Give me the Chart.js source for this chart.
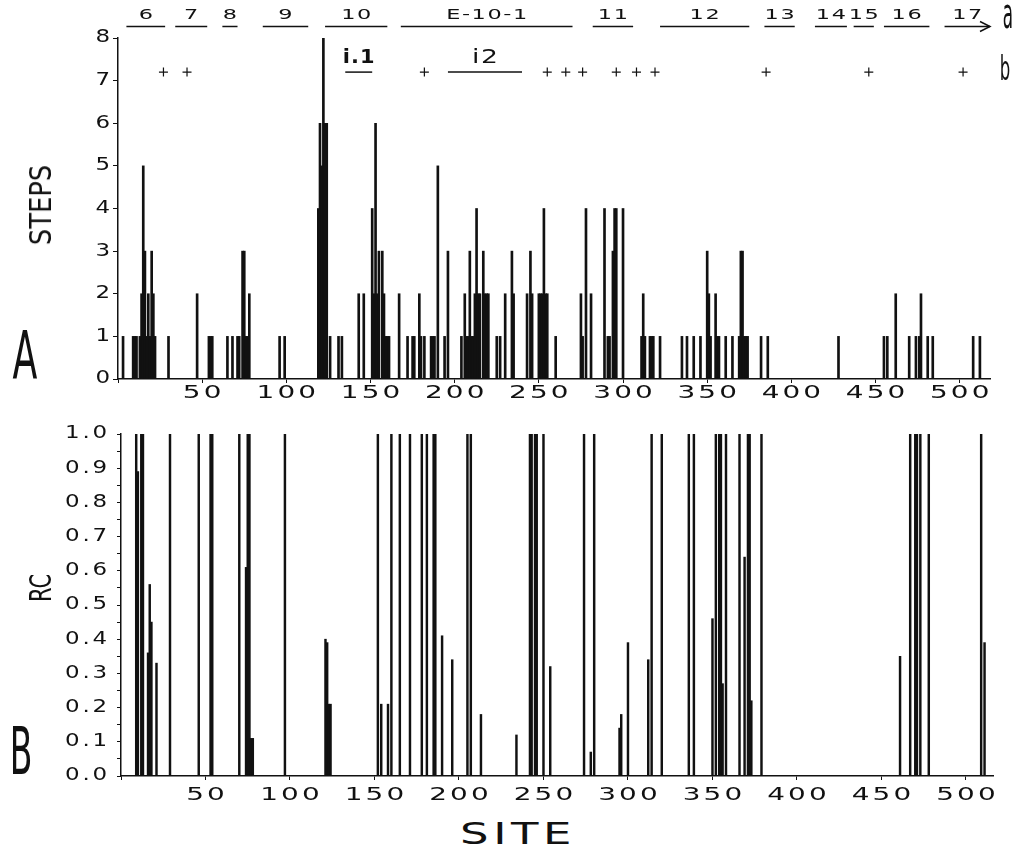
<!DOCTYPE html>
<html>
<head>
<meta charset="utf-8">
<script src="https://cdn.jsdelivr.net/npm/chart.js@4.4.1/dist/chart.umd.min.js"></script>
<style>
  html, body { margin: 0; padding: 0; background: #fff; }
  #wrap { position: relative; width: 1021px; height: 847px; overflow: hidden; font-family: "DejaVu Sans", sans-serif; color: #111; }
  canvas { position: absolute; left: 0; }
  #stepsChart { top: 0; }
  #rcChart { top: 410px; }
  .lbl { position: absolute; line-height: 1; white-space: nowrap; }
</style>
</head>
<body>
<div id="wrap">
  <canvas id="stepsChart" width="1021" height="405"></canvas>
  <canvas id="rcChart" width="1021" height="400"></canvas>

  <div class="lbl" style="left:25px; top:356px; font-size:66px; transform:translate(-50%,-50%) scaleX(0.55);">A</div>
  <div class="lbl" style="left:21px; top:752px; font-size:66px; transform:translate(-50%,-50%) scaleX(0.5);">B</div>
  <div class="lbl" style="left:41px; top:205px; font-size:30px; transform:translate(-50%,-50%) rotate(-90deg) scaleX(0.86);">STEPS</div>
  <div class="lbl" style="left:41px; top:588px; font-size:30px; transform:translate(-50%,-50%) rotate(-90deg) scaleX(0.7);">RC</div>
  <div class="lbl" style="left:1008px; top:14px; font-size:42px; transform:translate(-50%,-50%) scaleX(0.4);">a</div>
  <div class="lbl" style="left:1005px; top:68px; font-size:33px; transform:translate(-50%,-50%) scaleX(0.5);">b</div>
  <div class="lbl" style="left:518px; top:834px; font-size:30px; letter-spacing:3px; transform:translate(-50%,-50%) scaleX(1.5);">SITE</div>
</div>

<script>
// =======================
// DATA
// =======================

// panel A : steps per site
const stepSites = [3, 9, 10, 11, 13, 14, 15, 16, 17, 18, 19, 20, 21, 22, 30, 47, 54, 55, 56, 65, 68, 71, 72,
  74, 75, 76, 77, 78, 96, 99, 119, 120, 121, 122, 123, 124, 126, 131, 133, 143, 146, 151, 152, 153,
  154, 155, 157, 158, 159, 160, 161, 167, 172, 175, 176, 179, 180, 182, 186, 187, 188, 190, 194, 196,
  204, 206, 207, 208, 209, 210, 211, 212, 213, 214, 215, 217, 218, 219, 220, 225, 227, 230, 234, 235, 243, 245,
  246, 250, 251, 252, 253, 254, 255, 260, 275, 276, 278, 281, 289, 291, 292, 294, 295, 296, 300, 311,
  312, 313, 316, 317, 318, 322, 335, 338, 342, 346, 350, 351, 352, 355, 356, 357, 361, 365, 369, 370,
  371, 372, 373, 374, 382, 386, 428, 455, 457, 462, 470, 474, 476, 477, 481, 484, 508, 512];
const stepCounts = [1, 1, 1, 1, 1, 2, 5, 3, 1, 2, 1, 3, 2, 1, 1, 2, 1, 1, 1, 1, 1, 1, 1,
  3, 3, 1, 1, 2, 1, 1, 4, 6, 5, 8, 6, 6, 1, 1, 1, 2, 2, 4, 2, 6,
  2, 3, 3, 2, 1, 1, 1, 2, 1, 1, 1, 2, 1, 1, 1, 1, 1, 5, 1, 3,
  1, 2, 1, 1, 3, 1, 1, 2, 4, 2, 2, 3, 2, 2, 2, 1, 1, 2, 3, 2, 2, 3,
  2, 2, 2, 2, 4, 2, 2, 1, 2, 1, 4, 2, 4, 1, 1, 3, 4, 4, 4, 1,
  2, 1, 1, 1, 1, 1, 1, 1, 1, 1, 3, 2, 1, 2, 1, 1, 1, 1, 1, 3,
  3, 1, 1, 1, 1, 1, 1, 1, 1, 2, 1, 1, 1, 2, 1, 1, 1, 1];

// panel A : exons (row a), introns and "+" sites (row b)
const exonNames = ['6', '7', '8', '9', '10', 'E-10-1', '11', '12', '13', '14', '15', '16', '17'];
const exonStart = [5, 34, 62, 86, 123, 168, 282, 322, 384, 414, 437, 455, 491];
const exonEnd = [28, 53, 71, 113, 160, 270, 306, 375, 402, 433, 449, 482, 518];
const intronNames = ['i.1', 'i2'];
const intronStart = [135, 196];
const intronEnd = [151, 240];
const plusSites = [27, 41, 182, 255, 266, 276, 296, 308, 319, 385, 446, 502];
const plusLevel = 7.2;

// panel B : RC per site
const rcSites = [9, 10, 12, 13, 16, 17, 18, 21, 29, 46, 53, 54, 70, 74, 75, 76, 77, 78, 97, 121, 122,
  123, 124, 152, 154, 158, 160, 165, 171, 178, 181, 185, 186, 190, 196, 205, 207, 213, 234, 242, 243,
  245, 246, 250, 254, 274, 278, 280, 295, 296, 300, 312, 314, 320, 336, 339, 350, 352, 354, 355, 356,
  358, 366, 369, 371, 372, 373, 379, 461, 467, 470, 471, 473, 478, 509, 511];
const rcValues = [1.0, 0.89, 1.0, 1.0, 0.36, 0.56, 0.45, 0.33, 1.0, 1.0, 1.0, 1.0, 1.0, 0.61, 1.0, 1.0, 0.11, 0.11, 1.0, 0.40, 0.39,
  0.21, 0.21, 1.0, 0.21, 0.21, 1.0, 1.0, 1.0, 1.0, 1.0, 1.0, 1.0, 0.41, 0.34, 1.0, 1.0, 0.18, 0.12, 1.0, 1.0,
  1.0, 1.0, 1.0, 0.32, 1.0, 0.07, 1.0, 0.14, 0.18, 0.39, 0.34, 1.0, 1.0, 1.0, 1.0, 0.46, 1.0, 1.0, 1.0, 0.27,
  1.0, 1.0, 0.64, 1.0, 1.0, 0.22, 1.0, 0.35, 1.0, 1.0, 1.0, 1.0, 1.0, 1.0, 0.39];

// =======================
// HELPERS
// =======================

const INK = '#111';
const FONT = '"DejaVu Sans", sans-serif';

// the scan uses a very wide face : draw text stretched horizontally
function wideText(ctx, str, cx, cy, font, sx, space) {
  ctx.save();
  ctx.font = font;
  ctx.letterSpacing = space + 'px';
  ctx.translate(cx, cy);
  ctx.scale(sx, 1);
  const shift = ctx.textAlign === 'center' ? space / 2 : (ctx.textAlign === 'right' ? space : 0);
  ctx.fillText(str, shift, 0);
  ctx.restore();
}

function hLine(ctx, x1, x2, y) {
  ctx.beginPath();
  ctx.moveTo(x1, y);
  ctx.lineTo(x2, y);
  ctx.stroke();
}

// tick labels, placed from the chart's own scales
function axisLabels(xGap, yGap, yFormat) {
  return {
    id: 'axisLabels',
    afterDraw(chart) {
      const { ctx, chartArea, scales: { x, y } } = chart;
      ctx.save();
      ctx.fillStyle = INK;
      ctx.textBaseline = 'middle';

      ctx.textAlign = 'center';
      x.ticks.forEach(t => {
        if (t.value === 0) return;
        wideText(ctx, String(t.value), x.getPixelForValue(t.value), chartArea.bottom + xGap, '18px ' + FONT, 1.55, 2);
      });

      ctx.textAlign = 'right';
      y.ticks.forEach(t => {
        const str = yFormat(t.value);
        if (!str) return;
        wideText(ctx, str, chartArea.left - yGap, y.getPixelForValue(t.value), '17px ' + FONT, 1.35, 2);
      });
      ctx.restore();
    }
  };
}

function xAxis(max, height) {
  return {
    type: 'linear',
    min: 0,
    max: max,
    offset: false,
    grid: { drawOnChartArea: false, tickLength: 4, color: INK, offset: false },
    border: { color: INK, width: 1.5 },
    ticks: { stepSize: 50, includeBounds: false, autoSkip: false, display: false },
    afterFit: s => { s.height = height; }
  };
}

// =======================
// ANNOTATIONS (rows a / b)
// =======================

const geneMap = {
  id: 'geneMap',
  afterDatasetsDraw(chart) {
    const { ctx, scales: { x, y } } = chart;
    ctx.save();
    ctx.strokeStyle = INK;
    ctx.fillStyle = INK;
    ctx.lineWidth = 1.5;
    ctx.textAlign = 'center';
    ctx.textBaseline = 'middle';

    const lineA = y.getPixelForValue(8.27);
    const textA = y.getPixelForValue(8.52);
    exonNames.forEach((name, i) => {
      const x1 = x.getPixelForValue(exonStart[i]);
      const x2 = x.getPixelForValue(exonEnd[i]);
      hLine(ctx, x1, x2, lineA);
      wideText(ctx, name, (x1 + x2) / 2, textA, '14px ' + FONT, 1.6, 1);
    });

    // arrow on the last exon
    const xe = x.getPixelForValue(exonEnd[exonEnd.length - 1]);
    ctx.beginPath();
    ctx.moveTo(xe - 10, lineA - 5);
    ctx.lineTo(xe, lineA);
    ctx.lineTo(xe - 10, lineA + 5);
    ctx.stroke();

    const lineB = y.getPixelForValue(7.2);
    const textB = y.getPixelForValue(7.53);
    intronNames.forEach((name, i) => {
      const x1 = x.getPixelForValue(intronStart[i]);
      const x2 = x.getPixelForValue(intronEnd[i]);
      hLine(ctx, x1, x2, lineB);
      wideText(ctx, name, (x1 + x2) / 2, textB, (i === 0 ? 'bold ' : '') + '19px ' + FONT, i === 0 ? 1.1 : 1.4, 1);
    });

    ctx.restore();
  }
};

// =======================
// CHART A : STEPS
// =======================

new Chart(document.getElementById('stepsChart'), {
  type: 'bar',
  data: {
    datasets: [
      {
        type: 'bar',
        data: stepSites.map((s, i) => ({ x: s, y: stepCounts[i] })),
        backgroundColor: INK,
        borderWidth: 0,
        barThickness: 2
      },
      {
        type: 'scatter',
        data: plusSites.map(s => ({ x: s, y: plusLevel })),
        pointStyle: 'cross',
        radius: 4.5,
        borderColor: INK,
        borderWidth: 1.2,
        showLine: false
      }
    ]
  },
  options: {
    responsive: false,
    animation: false,
    devicePixelRatio: 1,
    layout: { autoPadding: false, padding: { left: 0, top: 38, right: 31, bottom: 0 } },
    plugins: { legend: { display: false }, tooltip: { enabled: false } },
    scales: {
      x: xAxis(518, 26),
      y: {
        min: 0,
        max: 8,
        grid: { drawOnChartArea: false, tickLength: 5, color: INK },
        border: { color: INK, width: 1.5 },
        ticks: { stepSize: 1, autoSkip: false, display: false },
        afterFit: s => { s.width = 118; }
      }
    }
  },
  plugins: [geneMap, axisLabels(14, 8, v => String(v))]
});

// =======================
// CHART B : RC
// =======================

new Chart(document.getElementById('rcChart'), {
  type: 'bar',
  data: {
    datasets: [{
      data: rcSites.map((s, i) => ({ x: s, y: rcValues[i] })),
      backgroundColor: INK,
      borderWidth: 0,
      barThickness: 1.8
    }]
  },
  options: {
    responsive: false,
    animation: false,
    devicePixelRatio: 1,
    layout: { autoPadding: false, padding: { left: 0, top: 24, right: 28, bottom: 0 } },
    plugins: { legend: { display: false }, tooltip: { enabled: false } },
    scales: {
      x: xAxis(516, 34),
      y: {
        min: 0,
        max: 1,
        grid: { drawOnChartArea: false, tickLength: 4, color: INK },
        border: { color: INK, width: 1.5 },
        ticks: { stepSize: 0.05, autoSkip: false, display: false },
        afterFit: s => { s.width = 121; }
      }
    }
  },
  plugins: [axisLabels(19, 14, v => {
    const k = Math.round(v * 100);
    return k % 10 === 0 ? (k / 100).toFixed(1) : '';
  })]
});
</script>
</body>
</html>
